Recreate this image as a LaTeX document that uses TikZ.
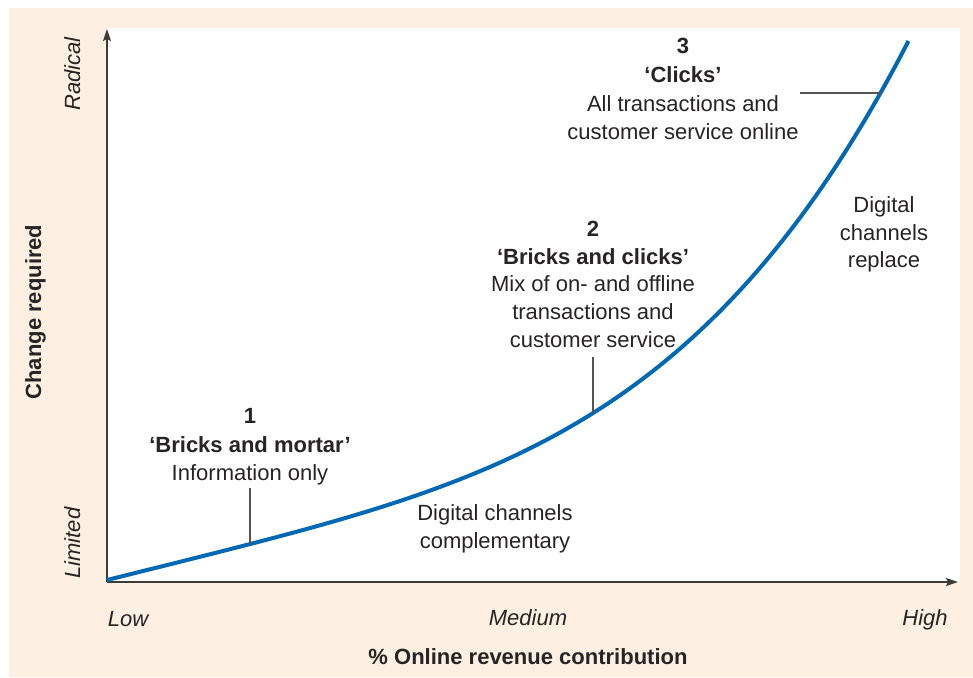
\documentclass[tikz,border=0pt]{standalone}
\usepackage{fontspec}
\setmainfont{Liberation Sans}
\usetikzlibrary{arrows.meta}

\definecolor{panel}{RGB}{253,240,226}
\definecolor{ink}{RGB}{38,36,36}
\definecolor{curveblue}{RGB}{0,104,180}
\definecolor{axisgray}{RGB}{60,60,60}
\definecolor{leadgray}{RGB}{85,85,85}

\tikzset{
  lbl/.style={inner sep=0pt, anchor=base, text=ink, font=\fontsize{22}{28}\selectfont},
  lblbold/.style={lbl, font=\fontsize{22}{28}\selectfont\bfseries},
  lblital/.style={lbl, font=\fontsize{22}{28}\selectfont\itshape},
  axisline/.style={draw=axisgray, line width=1.5pt, -{Stealth[length=12pt,width=8pt,inset=2pt]}},
  leader/.style={draw=leadgray, line width=1.2pt},
  growth/.style={draw=curveblue, line width=4pt}
}

\begin{document}
\begin{tikzpicture}[x=1pt,y=-1pt]
  \useasboundingbox (0,0) rectangle (973,677);
  % framing panel and white plotting field
  \fill[panel] (9,8) rectangle (973,677);
  \fill[white] (107,28) rectangle (960,582);

  % axes
  \coordinate (origin) at (107,582);
  \coordinate (ytip) at (107,29);
  \coordinate (xtip) at (958,582);
  \draw[axisline] (origin) -- (ytip);
  \draw[axisline] (origin) -- (xtip);

  % points on the curve where the leader lines meet it
  \coordinate (c1) at (250,544);
  \coordinate (c2) at (593,413);
  \coordinate (c3) at (880.5,93);

  % adoption curve: linear part plus a fourth-power rise
  \draw[growth] plot[domain=0:1, samples=150, variable=\t]
    ({107+803*\t}, {580-542*(0.369*\t+0.631*\t*\t*\t*\t)});

  % stage 1
  \node[lblbold] (s1num)  at (250,423) {1};
  \node[lblbold] (s1name) at (250,452) {‘Bricks and mortar’};
  \node[lbl]     (s1desc) at (250,480) {Information only};
  \coordinate (l1) at (250,488);
  \draw[leader] (l1) -- (c1);

  % stage 2
  \node[lblbold] (s2num)  at (593,236) {2};
  \node[lblbold] (s2name) at (593,264) {‘Bricks and clicks’};
  \node[lbl]     (s2d1)   at (593,291) {Mix of on- and offline};
  \node[lbl]     (s2d2)   at (593,319) {transactions and};
  \node[lbl]     (s2d3)   at (593,347) {customer service};
  \coordinate (l2) at (593,357);
  \draw[leader] (l2) -- (c2);

  % stage 3
  \node[lblbold] (s3num)  at (683,53) {3};
  \node[lblbold] (s3name) at (683,82) {‘Clicks’};
  \node[lbl]     (s3d1)   at (683,111) {All transactions and};
  \node[lbl]     (s3d2)   at (683,139) {customer service online};
  \coordinate (l3) at (800,93);
  \draw[leader] (l3) -- (c3);

  % region notes
  \node[lbl] (rep1) at (884,212) {Digital};
  \node[lbl] (rep2) at (884,240) {channels};
  \node[lbl] (rep3) at (884,267) {replace};
  \node[lbl] (comp1) at (495,520) {Digital channels};
  \node[lbl] (comp2) at (495,548) {complementary};

  % axis labels
  \node[lblital] (low)  at (128,626) {Low};
  \node[lblital] (med)  at (528,625) {Medium};
  \node[lblital] (high) at (925,625) {High};
  \node[lblbold] (xtitle) at (528,664) {\% Online revenue contribution};
  \node[lblital, rotate=90] (radical) at (80,74) {Radical};
  \node[lblital, rotate=90] (limited) at (80,543) {Limited};
  \node[lblbold, rotate=90] (ytitle) at (41,312) {Change required};
\end{tikzpicture}
\end{document}
